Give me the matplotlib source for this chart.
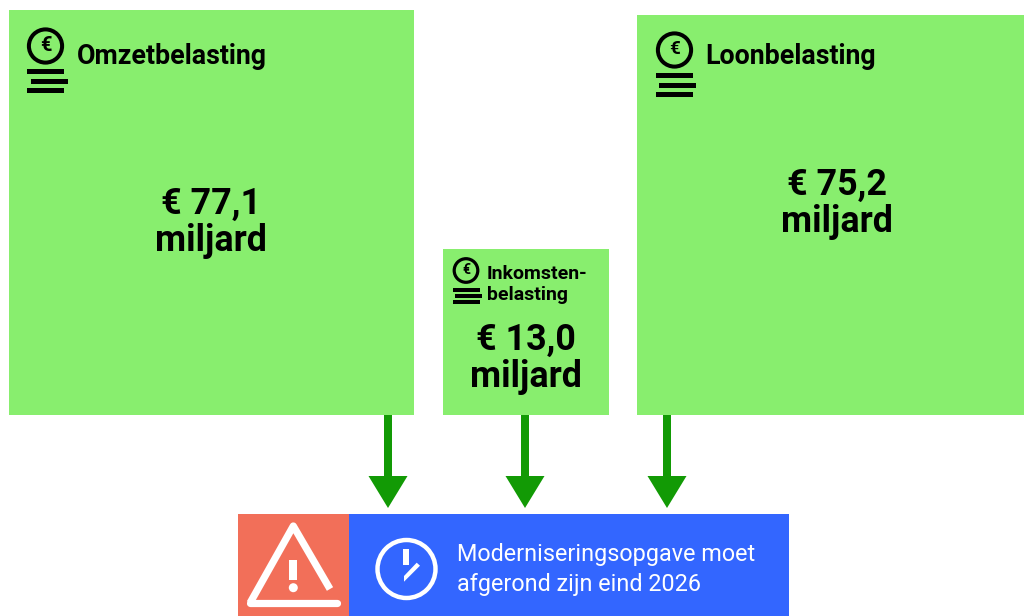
import matplotlib
matplotlib.use('Agg')
import matplotlib.pyplot as plt
from matplotlib.patches import Rectangle, Circle, Polygon

plt.rcParams['font.family'] = ['Roboto', 'DejaVu Sans']

titles = ['Omzetbelasting', 'Inkomsten-\nbelasting', 'Loonbelasting']
amounts = ['€ 77,1\nmiljard', '€ 13,0\nmiljard', '€ 75,2\nmiljard']
message = 'Moderniseringsopgave moet\nafgerond zijn eind 2026'

GREEN = '#88ee6e'
ARROW = '#129a05'
RED = '#f26f59'
BLUE = '#3366ff'

fig = plt.figure(figsize=(10.24, 6.16), dpi=100)
ax = fig.add_axes([0, 0, 1, 1])
ax.set_xlim(0, 1024)
ax.set_ylim(616, 0)
ax.axis('off')


def box(x0, y0, x1, y1, color):
    ax.add_patch(Rectangle((x0, y0), x1 - x0, y1 - y0, fc=color, ec='none'))


def coin(x, y, r, lw, fs, bars, bar_w, bar_h, shift):
    ax.add_patch(Circle((x, y), r, fc='none', ec='black', lw=lw))
    ax.text(x, y - 0.5, '€', fontsize=fs, fontweight='bold', ha='center', va='center')
    for i, dy in enumerate(bars):
        dx = -r - lw / 1.4 + (shift if i == 1 else 0)
        box(x + dx, y + dy, x + dx + bar_w, y + dy + bar_h, 'black')


def arrow(x):
    box(x - 4, 415, x + 4, 477, ARROW)
    ax.add_patch(Polygon([(x - 19.5, 476), (x + 19.5, 476), (x, 508)], fc=ARROW, ec='none'))


# blokken
box(9, 10, 414, 415, GREEN)
box(443, 249, 609, 415, GREEN)
box(637, 15, 1024, 415, GREEN)

coin(45.5, 46, 16.6, 2.9, 14.5, [23, 33, 42], 37, 5, 4)
coin(466, 270.5, 11.8, 2.3, 10, [17, 23, 29], 27, 4.2, 2.5)
coin(674.5, 50, 16.6, 2.9, 13.5, [23, 33, 42], 37, 5, 3)

ax.text(77, 56, titles[0], fontsize=19.3, fontweight='bold', va='center')
ax.text(487, 284.5, titles[1], fontsize=14, fontweight='bold', va='center', linespacing=1.25)
ax.text(705.5, 57, titles[2], fontsize=19.3, fontweight='bold', va='center')

ax.text(211, 222.5, amounts[0], fontsize=25.8, fontweight='bold', ha='center', va='center', linespacing=1.06)
ax.text(525.5, 358.5, amounts[1], fontsize=25.8, fontweight='bold', ha='center', va='center', linespacing=1.06)
ax.text(837, 203.5, amounts[2], fontsize=25.8, fontweight='bold', ha='center', va='center', linespacing=1.06)

for x in [388, 525, 667]:
    arrow(x)

# balk onderaan
box(238, 514, 349, 616, RED)
box(349, 514, 789, 616, BLUE)

# waarschuwing
ax.plot([330, 293.3, 250], [589, 526, 603], color='white', lw=5.2,
        solid_joinstyle='round', solid_capstyle='butt')
ax.plot([250, 337], [603, 603], color='white', lw=5.2, solid_capstyle='round')
box(288.7, 560, 297.3, 580, 'white')
ax.add_patch(Circle((293.3, 587.7), 4.5, fc='white', ec='none'))

# klok
ax.add_patch(Circle((406.5, 569), 29, fc='none', ec='white', lw=3.2))
box(403, 549, 409, 565, 'white')
ax.add_patch(Polygon([(416.7, 562.7), (420, 565.7), (404, 581.7), (404, 576)], fc='white', ec='none'))

ax.text(457, 569.5, message, fontsize=16.8, color='white', va='center', linespacing=1.37)

fig.savefig('out.png', dpi=100)
